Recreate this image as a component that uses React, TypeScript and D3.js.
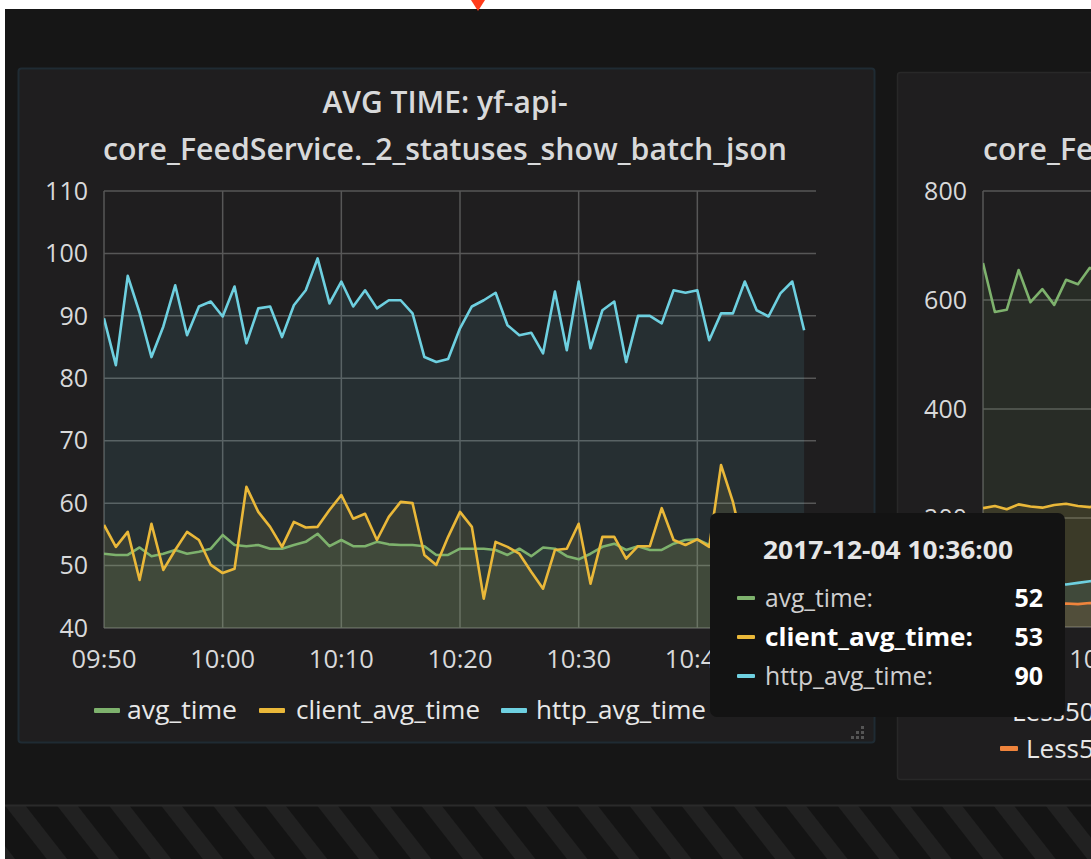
import React from 'react';
import * as d3 from 'd3';

// time axis: one point per minute from 09:50
const startTime = new Date(2017, 11, 4, 9, 50);
const times = d3.range(60).map(m => d3.timeMinute.offset(startTime, m));
const xTickTimes = ['09:50', '10:00', '10:10', '10:20', '10:30', '10:40'];
const yTicks = [40, 50, 60, 70, 80, 90, 100, 110];

const avgTime = [
  51.9, 51.7, 51.7, 52.9, 51.5, 51.9, 52.5, 51.9, 52.2, 52.7,
  54.9, 53.3, 53.1, 53.3, 52.7, 52.7, 53.3, 53.8, 55.1, 53.1,
  54.1, 53.1, 53.1, 53.8, 53.4, 53.3, 53.3, 53.1, 51.7, 51.7,
  52.7, 52.7, 52.7, 52.5, 51.7, 52.7, 51.5, 52.9, 52.7, 51.5,
  51.0, 51.9, 53.0, 53.5, 52.5, 53.1, 52.5, 52.5, 53.5, 54.1,
  54.2, 53.3, 53.5, 53.8, 53.6, 53.2, 53.4, 53.9, 53.5, 53.2,
];
const clientAvgTime = [
  56.5, 53.0, 55.4, 47.7, 56.7, 49.3, 52.5, 55.4, 54.1, 50.1,
  48.8, 49.5, 62.6, 58.6, 56.2, 53.0, 57.0, 56.1, 56.2, 58.9,
  61.3, 57.5, 58.3, 54.1, 57.8, 60.2, 60.0, 51.7, 50.1, 54.6,
  58.6, 56.2, 44.7, 53.8, 53.0, 51.9, 49.0, 46.3, 52.5, 52.7,
  56.7, 47.1, 54.6, 54.6, 51.1, 53.1, 53.1, 59.2, 54.1, 53.3,
  54.2, 53.0, 66.1, 60.2, 52.0, 54.5, 53.0, 55.0, 54.0, 53.5,
];
const httpAvgTime = [
  89.6, 82.1, 96.4, 90.5, 83.4, 88.3, 94.9, 86.9, 91.5, 92.3,
  89.9, 94.7, 85.6, 91.2, 91.5, 86.6, 91.7, 94.1, 99.2, 92.0,
  95.5, 91.5, 94.1, 91.2, 92.5, 92.5, 90.4, 83.4, 82.6, 83.1,
  88.0, 91.5, 92.5, 93.7, 88.5, 86.9, 87.3, 84.0, 93.9, 84.5,
  95.5, 84.8, 90.9, 92.3, 82.6, 90.0, 90.0, 88.8, 94.1, 93.7,
  94.1, 86.1, 90.4, 90.4, 95.5, 90.9, 89.9, 93.6, 95.5, 87.7,
];

// second panel (mostly off screen)
const rightYTicks = [0, 200, 400, 600, 800];
const rightGreen = [668, 578, 582, 655, 596, 620, 591, 637, 629, 659, 648];
const rightYellow = [218, 222, 216, 225, 221, 219, 224, 226, 222, 220, 223];
const rightCyan = [80, 82, 79, 81, 80, 83, 80, 78, 81, 84, 86];
const rightOrange = [40, 42, 41, 43, 42, 40, 41, 43, 42, 44, 43];

const tooltipTime = '2017-12-04 10:36:00';
const tooltipValues = [52, 53, 90];

const FONT = "'Open Sans', sans-serif";
const TEXT = '#d8d9da';
const GRID = '#575757';
const FILL_OP = 0.1;

const series = [
  { name: 'avg_time', color: '#7EB26D', values: avgTime },
  { name: 'client_avg_time', color: '#EAB839', values: clientAvgTime },
  { name: 'http_avg_time', color: '#6ED0E0', values: httpAvgTime },
];

const rightSeries = [
  { color: '#7EB26D', values: rightGreen },
  { color: '#EAB839', values: rightYellow },
  { color: '#6ED0E0', values: rightCyan },
  { color: '#EF843C', values: rightOrange },
];

const parseHM = d3.timeParse('%Y-%m-%d %H:%M');

export default function App() {
  const x = d3.scaleTime()
    .domain([startTime, d3.timeMinute.offset(startTime, 60)])
    .range([104, 816]);
  const y = d3.scaleLinear().domain([40, 110]).range([628, 191]);

  const line = d3.line<number>().x((d, i) => x(times[i])).y(d => y(d));
  const area = d3.area<number>().x((d, i) => x(times[i])).y0(y(40)).y1(d => y(d));

  const xr = d3.scaleTime()
    .domain([startTime, d3.timeMinute.offset(startTime, 60)])
    .range([983, 983 + 712]);
  const yr = d3.scaleLinear().domain([0, 800]).range([627, 191]);
  const lineR = d3.line<number>().x((d, i) => xr(times[i])).y(d => yr(d));
  const areaR = d3.area<number>().x((d, i) => xr(times[i])).y0(yr(0)).y1(d => yr(d));

  const fmt = d3.timeFormat('%H:%M');
  const tickDates = xTickTimes.map(t => parseHM('2017-12-04 ' + t) as Date);

  const legendItems = [
    { sx: 94, tx: 127, w: 110 },
    { sx: 259, tx: 296, w: 184 },
    { sx: 501, tx: 536, w: 170 },
  ];
  const tipWidths = [108, 208, 168];

  return (
    <svg width={1091} height={859} style={{ position: 'absolute', left: 0, top: 0 }}
      fontFamily={FONT}>
      <defs>
        <pattern id="stripes" width="41" height="41" patternUnits="userSpaceOnUse"
          patternTransform="rotate(-38)">
          <rect width="41" height="41" fill="#141414" />
          <rect width="16" height="41" fill="#212121" />
        </pattern>
        <clipPath id="plotL"><rect x={104} y={185} width={712} height={444} /></clipPath>
        <clipPath id="plotR"><rect x={983} y={185} width={200} height={443} /></clipPath>
      </defs>

      {/* page */}
      <rect width={1091} height={859} fill="#ffffff" />
      <rect x={5} y={9} width={1086} height={850} fill="#161616" />
      <path d="M471,0 L485,0 L478,11 Z" fill="#ff3b1a" />

      {/* bottom striped row */}
      <rect x={5} y={806} width={1086} height={53} fill="url(#stripes)" />
      <line x1={5} x2={1091} y1={805.5} y2={805.5} stroke="#2a2a2a" strokeWidth={2} />

      {/* panels */}
      <rect x={18.5} y={68.5} width={856} height={674} rx={3} fill="#1f1e1f" stroke="#1f2b33" strokeWidth={2} />
      <rect x={897.5} y={72.5} width={220} height={707} rx={3} fill="#1f1e1f" stroke="#282828" strokeWidth={1.5} />

      {/* left title */}
      <text x={445} y={113} textAnchor="middle" fontSize={30} fontWeight={600} fill={TEXT}>AVG TIME: yf-api-</text>
      <text x={445} y={160} textAnchor="middle" textLength={684} lengthAdjust="spacingAndGlyphs" fontSize={30} fontWeight={600} fill={TEXT}>core_FeedService._2_statuses_show_batch_json</text>

      {/* left grid */}
      {yTicks.map(t => (
        <line key={'gy' + t} x1={104} x2={816} y1={y(t)} y2={y(t)} stroke={GRID} strokeWidth={1.5} />
      ))}
      {tickDates.map(t => (
        <line key={'gx' + +t} x1={x(t)} x2={x(t)} y1={191} y2={628} stroke={GRID} strokeWidth={1.5} />
      ))}

      {/* left series */}
      <g clipPath="url(#plotL)">
        {series.map(s => (
          <path key={'a' + s.name} d={area(s.values) || ''} fill={s.color} fillOpacity={FILL_OP} />
        ))}
        {series.map(s => (
          <path key={'l' + s.name} d={line(s.values) || ''} fill="none" stroke={s.color}
            strokeWidth={2.6} strokeLinejoin="round" />
        ))}
      </g>

      {/* left axes labels */}
      {yTicks.map(t => (
        <text key={'ty' + t} x={88} y={y(t)} dy="0.35em" textAnchor="end" fontSize={25} fill={TEXT}>{t}</text>
      ))}
      {tickDates.map(t => (
        <text key={'tx' + +t} x={x(t)} y={668} textAnchor="middle" fontSize={25.5} fill={TEXT}>{fmt(t)}</text>
      ))}

      {/* left legend */}
      {series.map((s, i) => (
        <g key={'lg' + s.name}>
          <rect x={legendItems[i].sx} y={708} width={26} height={5} rx={1} fill={s.color} />
          <text x={legendItems[i].tx} y={719} fontSize={26} textLength={legendItems[i].w}
            lengthAdjust="spacingAndGlyphs" fill="#e8e8e8">{s.name}</text>
        </g>
      ))}

      {/* resize handle */}
      {[[861, 726], [861, 731], [856, 731], [861, 736], [856, 736], [851, 736]].map(([hx, hy], i) => (
        <rect key={'rh' + i} x={hx} y={hy} width={3} height={3} fill="#555" />
      ))}

      {/* right panel */}
      <text x={983} y={160} textLength={684} lengthAdjust="spacingAndGlyphs" fontSize={30} fontWeight={600} fill={TEXT}>core_FeedService._2_statuses_show_batch_json</text>
      {rightYTicks.map(t => (
        <line key={'rg' + t} x1={983} x2={1091} y1={yr(t)} y2={yr(t)} stroke={GRID} strokeWidth={1.5} />
      ))}
      {rightYTicks.filter(t => t > 0).map(t => (
        <text key={'ry' + t} x={967} y={yr(t)} dy="0.35em" textAnchor="end" fontSize={25} fill={TEXT}>{t}</text>
      ))}
      <line x1={983} x2={983} y1={191} y2={627} stroke={GRID} strokeWidth={1.5} />
      <g clipPath="url(#plotR)">
        {rightSeries.map((s, i) => (
          <path key={'ra' + i} d={areaR(s.values) || ''} fill={s.color} fillOpacity={FILL_OP} />
        ))}
        {rightSeries.map((s, i) => (
          <path key={'rl' + i} d={lineR(s.values) || ''} fill="none" stroke={s.color}
            strokeWidth={2.6} strokeLinejoin="round" />
        ))}
      </g>
      <text x={xr(tickDates[1])} y={668} textAnchor="middle" fontSize={25.5} fill={TEXT}>{fmt(tickDates[1])}</text>
      <text x={1012} y={721} fontSize={26} fill="#e8e8e8">Less500ms</text>
      <rect x={1000} y={746} width={18} height={5} rx={1} fill="#EF843C" />
      <text x={1026} y={758} fontSize={26} fill="#e8e8e8">Less50ms</text>

      {/* tooltip */}
      <rect x={710} y={513} width={355} height={204} rx={7} fill="#131313" />
      <text x={763} y={559} textLength={250} lengthAdjust="spacingAndGlyphs" fontSize={25} fontWeight={700} fill="#e6e6e6">{tooltipTime}</text>
      {series.map((s, i) => (
        <g key={'tt' + s.name}>
          <rect x={737} y={596 + i * 39} width={18} height={4} rx={1} fill={s.color} />
          <text x={765} y={607 + i * 39} fontSize={25} textLength={tipWidths[i]} lengthAdjust="spacingAndGlyphs"
            fontWeight={i === 1 ? 700 : 400}
            fill={i === 1 ? '#ffffff' : '#cfcfcf'}>{s.name}:</text>
          <text x={1043} y={607 + i * 39} textAnchor="end" fontSize={25} fontWeight={700} fill="#ffffff">
            {tooltipValues[i]}
          </text>
        </g>
      ))}
    </svg>
  );
}
